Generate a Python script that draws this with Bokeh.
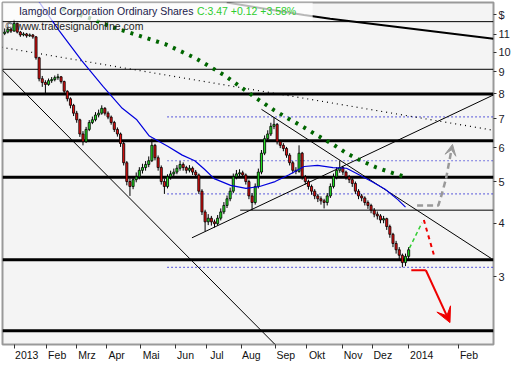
from bokeh.plotting import figure
from bokeh.models import (Range1d, FixedTicker, Label,
                          BoxAnnotation, Arrow, VeeHead, Span)
from bokeh.embed import file_html
from bokeh.resources import INLINE

# ---------------- data ----------------
bar_idx = list(range(-6, 254, 2))   # trading-day index (0 = first day of 2013)
opens = [
11.05,11.13,11.30,11.19,11.66,11.13,10.96,11.02,10.91,10.96,
10.85,9.70,8.67,8.50,8.41,8.58,8.63,8.72,8.76,8.54,
8.11,7.79,7.52,7.21,6.96,6.45,6.19,6.61,6.86,6.96,
7.14,7.21,7.40,7.21,7.06,6.86,6.61,6.45,6.13,5.53,
5.00,4.87,5.05,5.13,5.31,5.39,5.48,5.59,6.07,5.68,
5.39,5.00,4.87,5.13,5.21,5.26,5.37,5.48,5.39,5.31,
5.37,5.26,5.18,4.75,4.25,4.03,4.11,4.03,3.99,4.11,
4.25,4.40,4.56,4.75,5.13,5.21,5.24,5.18,5.00,4.63,
4.47,4.87,5.26,5.82,6.29,6.45,6.72,6.79,6.19,6.07,
5.97,5.76,5.53,5.31,5.28,5.82,5.13,5.00,4.87,4.75,
4.63,4.56,4.51,4.47,4.63,4.87,5.13,5.31,5.39,5.26,
5.13,5.05,4.95,4.75,4.63,4.58,4.47,4.40,4.29,4.20,
4.16,4.07,4.10,3.93,3.77,3.59,3.47,3.37,3.24,3.35]
closes = [
11.13,11.30,11.19,11.66,11.13,10.96,11.02,10.91,10.96,10.85,
9.70,8.67,8.50,8.41,8.58,8.63,8.72,8.76,8.54,8.11,
7.79,7.52,7.21,6.96,6.45,6.19,6.61,6.86,6.96,7.14,
7.21,7.40,7.21,7.06,6.86,6.61,6.45,6.13,5.53,5.00,
4.87,5.05,5.13,5.31,5.39,5.48,5.59,6.07,5.68,5.39,
5.00,4.87,5.13,5.21,5.26,5.37,5.48,5.39,5.31,5.37,
5.26,5.18,4.75,4.25,4.03,4.11,4.03,3.99,4.11,4.25,
4.40,4.56,4.75,5.13,5.21,5.24,5.18,5.00,4.63,4.47,
4.87,5.26,5.82,6.29,6.45,6.72,6.79,6.19,6.07,5.97,
5.76,5.53,5.31,5.28,5.82,5.13,5.00,4.87,4.75,4.63,
4.56,4.51,4.47,4.63,4.87,5.13,5.31,5.39,5.26,5.13,
5.05,4.95,4.75,4.63,4.58,4.47,4.40,4.29,4.20,4.16,
4.07,4.10,3.93,3.77,3.59,3.47,3.37,3.24,3.35,3.47]
highs = [
11.35,11.45,11.40,11.90,11.70,11.20,11.12,11.08,11.05,11.02,
10.90,9.75,8.80,8.60,8.68,8.75,8.82,8.90,8.80,8.58,
8.15,7.85,7.58,7.30,7.00,6.55,6.70,6.95,7.08,7.25,
7.35,7.52,7.45,7.28,7.12,6.92,6.68,6.50,6.18,5.58,
5.08,5.15,5.25,5.40,5.50,5.58,5.72,6.29,6.12,5.75,
5.45,5.08,5.20,5.30,5.36,5.46,5.58,5.54,5.44,5.46,
5.42,5.32,5.22,4.80,4.30,4.20,4.16,4.08,4.18,4.33,
4.48,4.64,4.84,5.22,5.32,5.34,5.30,5.22,5.05,4.70,
4.95,5.36,5.92,6.40,6.58,6.85,7.06,6.84,6.25,6.14,
6.02,5.82,5.58,5.40,6.07,5.86,5.18,5.05,4.92,4.80,
4.68,4.62,4.56,4.70,4.95,5.22,5.40,5.59,5.44,5.30,
5.18,5.10,5.00,4.80,4.68,4.62,4.52,4.44,4.34,4.26,
4.20,4.16,4.12,3.97,3.80,3.64,3.52,3.40,3.40,3.52]
lows = [
10.95,11.05,11.08,11.15,11.05,10.85,10.88,10.80,10.84,10.74,
9.60,8.55,8.30,8.03,8.35,8.48,8.55,8.62,8.45,8.00,
7.68,7.40,7.10,6.85,6.35,6.07,6.15,6.55,6.80,6.90,
7.05,7.15,7.12,6.98,6.78,6.52,6.36,6.02,5.45,4.90,
4.63,4.80,4.98,5.06,5.22,5.30,5.40,5.55,5.60,5.30,
4.92,4.68,4.82,5.05,5.14,5.20,5.30,5.30,5.22,5.25,
5.18,5.10,4.68,4.18,3.83,3.96,3.95,3.91,3.95,4.06,
4.20,4.34,4.50,4.70,5.06,5.12,5.10,4.92,4.55,4.29,
4.42,4.82,5.20,5.76,6.20,6.38,6.62,6.10,5.98,5.88,
5.68,5.45,5.22,5.20,5.24,5.05,4.92,4.79,4.66,4.55,
4.48,4.42,4.33,4.40,4.58,4.82,5.06,5.24,5.18,5.05,
4.96,4.86,4.68,4.55,4.50,4.40,4.32,4.22,4.13,4.08,
4.00,4.00,3.86,3.70,3.52,3.40,3.30,3.16,3.18,3.30]

# moving averages
ma50_x = [15.4, 29.0, 43.2, 56.8, 69.1, 78.4, 86.4, 98.1, 107.4, 115.4, 121.6, 127.8,
          138.3, 148.1, 156.8, 166.7, 175.3, 185.2, 193.8, 203.7, 212.3, 218.5,
          228.4, 237.0, 245.1, 250.0]
ma50_y = [13.17, 11.19, 9.55, 8.32, 7.40, 6.96, 6.38, 6.04, 5.76, 5.59, 5.34, 5.08,
          4.90, 4.82, 4.87, 5.00, 5.18, 5.42, 5.45, 5.39, 5.37, 5.23,
          5.00, 4.80, 4.54, 4.36]
ma200_x = [30.9, 47.5, 63.0, 78.4, 96.9, 115.4, 134.0, 152.5, 166.0, 175.3, 185.2,
           194.4, 203.7, 212.3, 221.6, 231.5, 242.0, 248.1]
ma200_y = [12.58, 12.02, 11.42, 10.96, 10.42, 9.70, 8.85, 7.91, 7.33, 7.00, 6.68,
           6.38, 6.10, 5.82, 5.59, 5.39, 5.23, 5.15]

# horizontal levels
thick_levels = [7.99, 6.22, 5.12, 3.29, 2.25]
thin_levels = [11.77, 9.12]
support_level = 4.29
support_from = 144.4
dotted_levels = [7.07, 5.59, 4.68, 3.16]
dotted_from = 98.0

# trend lines (start x, start price, end x, end price)
trend_x0 = [-8.0, 113.6, 158.0]
trend_y0 = [9.12, 3.70, 7.36]
trend_x1 = [166.7, 306.2, 304.9]
trend_y1 = [2.09, 7.95, 3.31]
long_trend_x = [135.8, 185.2, 201.9, 306.2]
long_trend_y = [13.04, 12.20, 11.96, 10.74]
dotline_x = [-8.0, 306.2]
dotline_y = [10.26, 6.58]

# projections
proj_up_x = [257.4, 271.0, 273.0, 275.9, 280.0]
proj_up_y = [4.40, 4.40, 4.65, 5.08, 6.10]
proj_green_x = [252.5, 260.5]
proj_green_y = [3.50, 4.01]
proj_red_x = [261.7, 268.5]
proj_red_y = [4.07, 3.34]
target_x = [253.7, 263.0, 278.4]
target_y = [3.11, 3.11, 2.35]

month_ticks = [0, 21, 40, 59, 81, 103, 123, 145, 167, 187, 210, 229, 252, 284]
month_labels = ["2013", "Feb", "Mrz", "Apr", "Mai", "Jun", "Jul", "Aug", "Sep",
                "Okt", "Nov", "Dez", "2014", "Feb"]
price_ticks = [3, 4, 5, 6, 7, 8, 9, 10, 11, 12.2]
price_labels = ["3", "4", "5", "6", "7", "8", "9", "10", "11", "$"]

title_main = "Iamgold Corporation Ordinary Shares"
title_quote = "C:3.47 +0.12 +3.58%"
copyright_text = "\u00a9 www.tradesignalonline.com"

# ---------------- figure ----------------
x_lo, x_hi = -7.4, 306.2
y_lo, y_hi = 2.09, 13.04
FONT = "Liberation Sans"
NBSP = "\u00a0"

p = figure(width=513, height=363, x_range=Range1d(x_lo, x_hi),
           y_range=Range1d(y_lo, y_hi), y_axis_type="log",
           y_axis_location="right", output_backend="svg",
           toolbar_location=None, min_border_left=2, min_border_top=2,
           min_border_right=0, min_border_bottom=0)
p.background_fill_color = "#f4f4f4"
p.border_fill_color = "white"
p.outline_line_color = "#999999"
p.outline_line_width = 2
p.grid.visible = False

ya = p.yaxis[0]
ya.ticker = FixedTicker(ticks=price_ticks, minor_ticks=[])
ya.major_label_overrides = {t: s for t, s in zip(price_ticks, price_labels)}
ya.major_tick_out = 3
ya.major_tick_in = 0
ya.minor_tick_out = 0
ya.axis_line_color = None
ya.major_tick_line_color = "#333333"
ya.major_label_standoff = 2
ya.major_label_text_font = FONT
ya.major_label_text_font_size = "11px"
ya.major_label_text_color = "#1a1a2a"

# left-aligned month labels: pad in front by about the label's own width
# (the first label is pushed inside the canvas by Bokeh, so it needs less)
label_pad = [5] + [2 * len(s) + 1 for s in month_labels[1:]]
xa = p.xaxis[0]
xa.ticker = FixedTicker(ticks=month_ticks, minor_ticks=[])
xa.major_label_overrides = {t: NBSP * n + s
                            for t, s, n in zip(month_ticks, month_labels, label_pad)}
xa.major_tick_out = 4
xa.major_tick_in = 0
xa.minor_tick_out = 0
xa.axis_line_color = None
xa.major_tick_line_color = "#333333"
xa.major_label_standoff = 0
xa.major_label_text_font = FONT
xa.major_label_text_font_size = "10.5px"
xa.major_label_text_color = "#111111"

# horizontal levels
for lv in thick_levels:
    p.add_layout(Span(location=lv, dimension="width", line_color="black",
                      line_width=3, level="underlay"))
for lv in thin_levels:
    p.add_layout(Span(location=lv, dimension="width", line_color="black",
                      line_width=1, level="underlay"))
p.segment(x0=[support_from], y0=[support_level], x1=[x_hi], y1=[support_level],
          line_color="black", line_width=1)
p.segment(x0=[dotted_from] * len(dotted_levels), y0=dotted_levels,
          x1=[x_hi] * len(dotted_levels), y1=dotted_levels,
          line_color="#0000cc", line_width=1.2, line_dash="1 3")

# trend lines
p.segment(x0=trend_x0, y0=trend_y0, x1=trend_x1, y1=trend_y1,
          line_color="black", line_width=1)
p.line(long_trend_x, long_trend_y, line_color="black", line_width=2)
p.line(dotline_x, dotline_y, line_color="black", line_width=1.2, line_dash="1 4")

# candles
body_top = [max(o, c) for o, c in zip(opens, closes)]
body_bot = [min(o, c) for o, c in zip(opens, closes)]
colors = ["#22dd22" if c >= o else "#e21010" for o, c in zip(opens, closes)]
p.segment(x0=bar_idx, y0=lows, x1=bar_idx, y1=highs, line_color="black", line_width=1)
p.vbar(x=bar_idx, width=1.35, top=body_top, bottom=body_bot, fill_color=colors,
       line_color="black", line_width=0.8)

# moving averages
p.line(ma50_x, ma50_y, line_color="#0000dd", line_width=1.2)
p.line(ma200_x, ma200_y, line_color="#006600", line_width=4, line_dash="3 6")

# projections
p.line(proj_up_x[:-1], proj_up_y[:-1], line_color="#999999", line_width=2.5,
       line_dash="6 4")
p.add_layout(Arrow(end=VeeHead(size=11, fill_color="#999999", line_color="#999999"),
                   x_start=proj_up_x[-2], y_start=proj_up_y[-2],
                   x_end=proj_up_x[-1], y_end=proj_up_y[-1],
                   line_color="#999999", line_width=2.5, line_dash="6 4"))
p.line(proj_green_x, proj_green_y, line_color="#33cc33", line_width=1.5, line_dash="4 3")
p.line(proj_red_x, proj_red_y, line_color="#ee0000", line_width=2, line_dash="4 4")
p.line(target_x[:2], target_y[:2], line_color="#ee0000", line_width=2)
p.add_layout(Arrow(end=VeeHead(size=15, fill_color="#ee0000", line_color="#ee0000"),
                   x_start=target_x[1], y_start=target_y[1],
                   x_end=target_x[2], y_end=target_y[2],
                   line_color="#ee0000", line_width=2))

# title box + texts
p.add_layout(BoxAnnotation(left=x_lo, right=190.7, bottom=11.83, top=y_hi,
                           fill_color="white", fill_alpha=0.72, line_color=None))
p.add_layout(Label(x=3.1, y=12.45, text=title_main, text_font=FONT,
                   text_font_size="10.5px", text_color="#1a1a4a",
                   text_baseline="middle", text_align="left"))
p.add_layout(Label(x=3.1, y=12.45, x_offset=178, text=title_quote, text_font=FONT,
                   text_font_size="10.5px", text_color="#2ecc2e",
                   text_baseline="middle", text_align="left"))
p.add_layout(Label(x=x_lo, y=11.48, x_offset=3, text=copyright_text, text_font=FONT,
                   text_font_size="10.5px", text_color="#222222",
                   text_baseline="middle", text_align="left"))

open("out.html", "w").write(file_html(p, INLINE))
